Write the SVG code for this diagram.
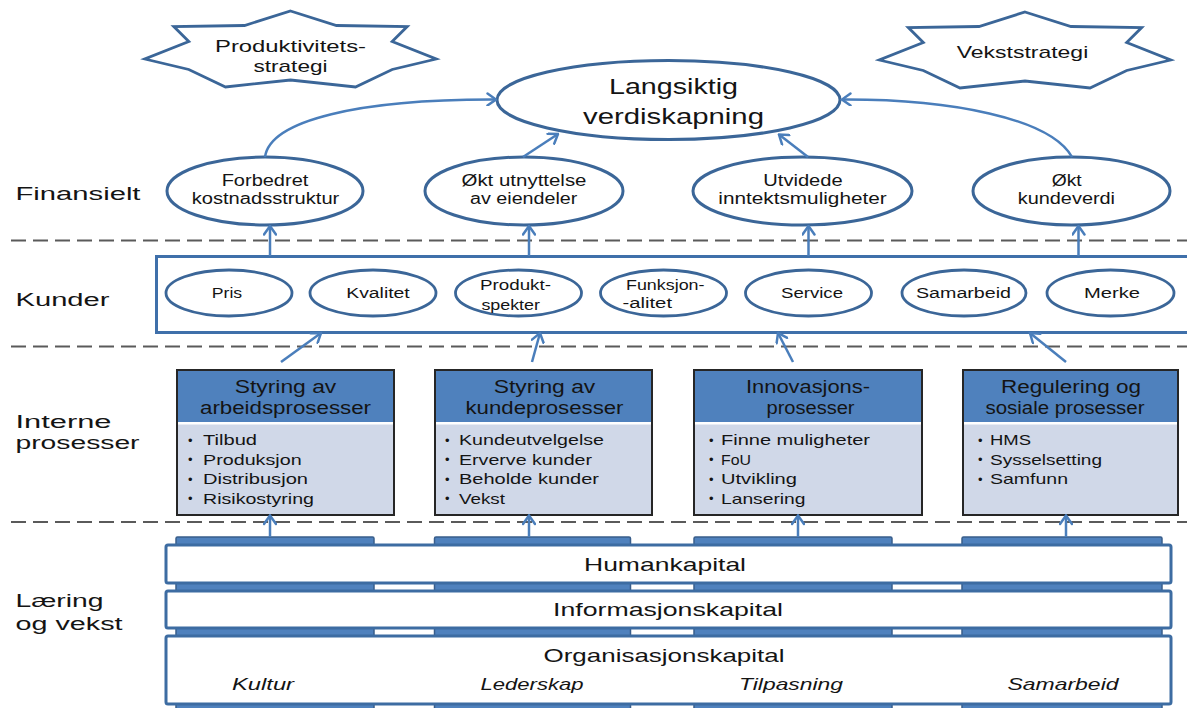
<svg xmlns="http://www.w3.org/2000/svg" width="1187" height="708" viewBox="0 0 1187 708">
  <style>
    text { font-family: "Liberation Sans", Arial, sans-serif; fill: #141414; }
    .lbl { font-size: 18.8px; }
    .big { font-size: 21.5px; text-anchor: middle; }
    .fin { font-size: 16px; text-anchor: middle; }
    .star { font-size: 17px; text-anchor: middle; }
    .kd { font-size: 14px; text-anchor: middle; }
    .kds { font-size: 14px; }
    .hd { font-size: 17.5px; text-anchor: middle; }
    .bl { font-size: 15px; }
    .dot { font-size: 13px; }
    .cap { font-size: 19px; text-anchor: middle; }
    .it { font-size: 17px; font-style: italic; text-anchor: middle; }
    .oval { fill: #ffffff; stroke: #3B6698; stroke-width: 3; }
    .oval-s { fill: #ffffff; stroke: #3B6698; stroke-width: 2.8; }
    .starshape { fill: #ffffff; stroke: #3B6698; stroke-width: 2.8; stroke-linejoin: miter; }
    .conn { fill: none; stroke: #4A7EBB; stroke-width: 2.5; marker-end: url(#open); }
    .dash { stroke: #5A5A5A; stroke-width: 2; stroke-dasharray: 15 7; }
    .phead { fill: #4F81BD; }
    .pbody { fill: #D0D8E8; stroke: #262626; stroke-width: 2; }
    .pillar { fill: #4F81BD; stroke: #385D8A; stroke-width: 1.5; }
    .bar { fill: #ffffff; stroke: #3D6CA2; stroke-width: 3; }
  </style>
  <defs>
    <marker id="open" viewBox="0 0 12 14" refX="10.5" refY="7" markerWidth="12" markerHeight="14" markerUnits="userSpaceOnUse" orient="auto">
      <path d="M2,1 L10.5,7 L2,13" fill="none" stroke="#4A7EBB" stroke-width="2.5" stroke-linecap="round"/>
    </marker>
    <polygon id="star7" points="0,12 46,26.5 116.7,27.5 101.7,42.5 145.7,60 101.7,70.5 65,88 0,81 -65,88 -101.7,70.5 -145.7,60 -101.7,42.5 -116.7,27.5 -46,26.5"/>
  </defs>

  <!-- perspective separators -->
  <g id="separators">
    <line class="dash" x1="11" y1="240.5" x2="1187" y2="240.5"/>
    <line class="dash" x1="11" y1="346.5" x2="1187" y2="346.5"/>
    <line class="dash" x1="11" y1="522" x2="1187" y2="522"/>
  </g>

  <!-- perspective labels -->
  <g id="row-labels">
    <text class="lbl" x="15.5" y="199.5" textLength="125" lengthAdjust="spacingAndGlyphs">Finansielt</text>
    <text class="lbl" x="15.5" y="305.5" textLength="94" lengthAdjust="spacingAndGlyphs">Kunder</text>
    <text class="lbl"><tspan x="15.5" y="427.5" textLength="96" lengthAdjust="spacingAndGlyphs">Interne</tspan><tspan x="15.5" y="448.7" textLength="124" lengthAdjust="spacingAndGlyphs">prosesser</tspan></text>
    <text class="lbl"><tspan x="15.5" y="606.5" textLength="88" lengthAdjust="spacingAndGlyphs">Læring</tspan><tspan x="15.5" y="630" textLength="107" lengthAdjust="spacingAndGlyphs">og vekst</tspan></text>
  </g>

  <!-- strategies -->
  <g id="star-produktivitet">
    <use href="#star7" class="starshape" transform="translate(290.5,-1)"/>
    <text class="star"><tspan x="290.5" y="51.5" textLength="151" lengthAdjust="spacingAndGlyphs">Produktivitets-</tspan><tspan x="290.5" y="71.5" textLength="74" lengthAdjust="spacingAndGlyphs">strategi</tspan></text>
  </g>
  <g id="star-vekst">
    <use href="#star7" class="starshape" transform="translate(1025,0)"/>
    <text class="star" x="1022.5" y="58.3" textLength="131.5" lengthAdjust="spacingAndGlyphs">Vekststrategi</text>
  </g>

  <g id="goal">
    <ellipse class="oval" cx="668.5" cy="100" rx="171.5" ry="39.5"/>
    <text class="big"><tspan x="673.5" y="94.3" textLength="129" lengthAdjust="spacingAndGlyphs">Langsiktig</tspan><tspan x="673.5" y="124" textLength="181" lengthAdjust="spacingAndGlyphs">verdiskapning</tspan></text>
  </g>

  <!-- financial perspective -->
  <g id="fin-kostnad">
    <ellipse class="oval" cx="265" cy="191" rx="98" ry="34"/>
    <text class="fin"><tspan x="265" y="185.7" textLength="86.7" lengthAdjust="spacingAndGlyphs">Forbedret</tspan><tspan x="265.5" y="204" textLength="147.7" lengthAdjust="spacingAndGlyphs">kostnadsstruktur</tspan></text>
  </g>
  <g id="fin-eiendeler">
    <ellipse class="oval" cx="524" cy="191" rx="99" ry="34"/>
    <text class="fin"><tspan x="524" y="185.7" textLength="125" lengthAdjust="spacingAndGlyphs">Økt utnyttelse</tspan><tspan x="523.7" y="204" textLength="107.3" lengthAdjust="spacingAndGlyphs">av eiendeler</tspan></text>
  </g>
  <g id="fin-inntekt">
    <ellipse class="oval" cx="802.5" cy="191" rx="109.5" ry="34"/>
    <text class="fin"><tspan x="803" y="185.7" textLength="79.4" lengthAdjust="spacingAndGlyphs">Utvidede</tspan><tspan x="802.5" y="204" textLength="168.4" lengthAdjust="spacingAndGlyphs">inntektsmuligheter</tspan></text>
  </g>
  <g id="fin-kundeverdi">
    <ellipse class="oval" cx="1071.5" cy="191" rx="98.5" ry="34"/>
    <text class="fin"><tspan x="1066.7" y="185.5" textLength="30" lengthAdjust="spacingAndGlyphs">Økt</tspan><tspan x="1066.4" y="204" textLength="97.3" lengthAdjust="spacingAndGlyphs">kundeverdi</tspan></text>
  </g>

  <!-- customer perspective -->
  <g id="kunder">
    <rect x="156.5" y="256.5" width="1045" height="76" fill="#ffffff" stroke="#3F70AA" stroke-width="3"/>
    <g id="k-pris">
      <ellipse class="oval-s" cx="229" cy="293" rx="63" ry="23"/>
      <text class="kd" x="227" y="298.3" textLength="30.4" lengthAdjust="spacingAndGlyphs">Pris</text>
    </g>
    <g id="k-kvalitet">
      <ellipse class="oval-s" cx="373" cy="293" rx="63" ry="23"/>
      <text class="kd" x="378" y="298.3" textLength="63.5" lengthAdjust="spacingAndGlyphs">Kvalitet</text>
    </g>
    <g id="k-produkt">
      <ellipse class="oval-s" cx="518.5" cy="293" rx="63" ry="23"/>
      <text class="kds"><tspan x="480" y="290" textLength="71" lengthAdjust="spacingAndGlyphs">Produkt-</tspan><tspan x="481.4" y="309.5" textLength="58.6" lengthAdjust="spacingAndGlyphs">spekter</tspan></text>
    </g>
    <g id="k-funksjon">
      <ellipse class="oval-s" cx="663.5" cy="293" rx="63" ry="23"/>
      <text class="kds"><tspan x="626" y="289.5" textLength="78.5" lengthAdjust="spacingAndGlyphs">Funksjon-</tspan><tspan x="622.5" y="307.5" textLength="49.5" lengthAdjust="spacingAndGlyphs">-alitet</tspan></text>
    </g>
    <g id="k-service">
      <ellipse class="oval-s" cx="808.5" cy="293" rx="63" ry="23"/>
      <text class="kd" x="812" y="298.3" textLength="62" lengthAdjust="spacingAndGlyphs">Service</text>
    </g>
    <g id="k-samarbeid">
      <ellipse class="oval-s" cx="964" cy="293" rx="62" ry="23"/>
      <text class="kd" x="963.5" y="298.3" textLength="95" lengthAdjust="spacingAndGlyphs">Samarbeid</text>
    </g>
    <g id="k-merke">
      <ellipse class="oval-s" cx="1110.5" cy="293" rx="63.5" ry="23"/>
      <text class="kd" x="1112" y="298.3" textLength="56" lengthAdjust="spacingAndGlyphs">Merke</text>
    </g>
  </g>

  <!-- internal processes -->
  <g id="proc-arbeid">
    <rect class="pbody" x="177" y="370" width="217" height="145"/>
    <rect class="phead" x="178" y="371" width="215" height="51"/>
    <line x1="178" y1="423.2" x2="393" y2="423.2" stroke="#ffffff" stroke-width="2.4"/>
    <text class="hd"><tspan x="285.5" y="393.3" textLength="101.6" lengthAdjust="spacingAndGlyphs">Styring av</tspan><tspan x="285.5" y="414.3" textLength="171" lengthAdjust="spacingAndGlyphs">arbeidsprosesser</tspan></text>
    <text class="dot"><tspan x="188" y="444.5">•</tspan><tspan x="188" y="464">•</tspan><tspan x="188" y="483.5">•</tspan><tspan x="188" y="503">•</tspan></text>
    <text class="bl"><tspan x="203" y="445" textLength="54" lengthAdjust="spacingAndGlyphs">Tilbud</tspan><tspan x="203" y="464.5" textLength="98.6" lengthAdjust="spacingAndGlyphs">Produksjon</tspan><tspan x="203" y="484" textLength="105" lengthAdjust="spacingAndGlyphs">Distribusjon</tspan><tspan x="203" y="503.5" textLength="111" lengthAdjust="spacingAndGlyphs">Risikostyring</tspan></text>
  </g>
  <g id="proc-kunde">
    <rect class="pbody" x="435" y="370" width="217" height="145"/>
    <rect class="phead" x="436" y="371" width="215" height="51"/>
    <line x1="436" y1="423.2" x2="651" y2="423.2" stroke="#ffffff" stroke-width="2.4"/>
    <text class="hd"><tspan x="544.5" y="393.3" textLength="101.6" lengthAdjust="spacingAndGlyphs">Styring av</tspan><tspan x="544.5" y="414.3" textLength="158" lengthAdjust="spacingAndGlyphs">kundeprosesser</tspan></text>
    <text class="dot"><tspan x="445" y="444.5">•</tspan><tspan x="445" y="464">•</tspan><tspan x="445" y="483.5">•</tspan><tspan x="445" y="503">•</tspan></text>
    <text class="bl"><tspan x="459" y="445" textLength="145" lengthAdjust="spacingAndGlyphs">Kundeutvelgelse</tspan><tspan x="459" y="464.5" textLength="133" lengthAdjust="spacingAndGlyphs">Erverve kunder</tspan><tspan x="459" y="484" textLength="140" lengthAdjust="spacingAndGlyphs">Beholde kunder</tspan><tspan x="459" y="503.5" textLength="46" lengthAdjust="spacingAndGlyphs">Vekst</tspan></text>
  </g>
  <g id="proc-innovasjon">
    <rect class="pbody" x="694" y="370" width="228" height="145"/>
    <rect class="phead" x="695" y="371" width="226" height="51"/>
    <line x1="695" y1="423.2" x2="921" y2="423.2" stroke="#ffffff" stroke-width="2.4"/>
    <text class="hd"><tspan x="808" y="393.3" textLength="124" lengthAdjust="spacingAndGlyphs">Innovasjons-</tspan><tspan x="810.5" y="414.3" textLength="88" lengthAdjust="spacingAndGlyphs">prosesser</tspan></text>
    <text class="dot"><tspan x="709" y="444.5">•</tspan><tspan x="709" y="464">•</tspan><tspan x="709" y="483.5">•</tspan><tspan x="709" y="503">•</tspan></text>
    <text class="bl"><tspan x="721" y="445" textLength="149" lengthAdjust="spacingAndGlyphs">Finne muligheter</tspan><tspan x="721" y="464.5" textLength="30" lengthAdjust="spacingAndGlyphs">FoU</tspan><tspan x="721" y="484" textLength="76" lengthAdjust="spacingAndGlyphs">Utvikling</tspan><tspan x="721" y="503.5" textLength="84.5" lengthAdjust="spacingAndGlyphs">Lansering</tspan></text>
  </g>
  <g id="proc-regulering">
    <rect class="pbody" x="963" y="370" width="215" height="145"/>
    <rect class="phead" x="964" y="371" width="213" height="51"/>
    <line x1="964" y1="423.2" x2="1177" y2="423.2" stroke="#ffffff" stroke-width="2.4"/>
    <text class="hd"><tspan x="1071" y="393.3" textLength="140" lengthAdjust="spacingAndGlyphs">Regulering og</tspan><tspan x="1065" y="414.3" textLength="159" lengthAdjust="spacingAndGlyphs">sosiale prosesser</tspan></text>
    <text class="dot"><tspan x="978" y="444.5">•</tspan><tspan x="978" y="464">•</tspan><tspan x="978" y="483.5">•</tspan></text>
    <text class="bl"><tspan x="990" y="445" textLength="41" lengthAdjust="spacingAndGlyphs">HMS</tspan><tspan x="990" y="464.5" textLength="112" lengthAdjust="spacingAndGlyphs">Sysselsetting</tspan><tspan x="990" y="484" textLength="78" lengthAdjust="spacingAndGlyphs">Samfunn</tspan></text>
  </g>

  <!-- learning and growth: pillars behind capital layers -->
  <g id="pillars">
    <rect class="pillar" x="176" y="537" width="198" height="180" rx="1.5"/>
    <rect class="pillar" x="434.5" y="537" width="196" height="180" rx="1.5"/>
    <rect class="pillar" x="694" y="537" width="198" height="180" rx="1.5"/>
    <rect class="pillar" x="962" y="537" width="200" height="180" rx="1.5"/>
  </g>
  <g id="cap-human">
    <rect class="bar" x="166" y="545" width="1005" height="38" rx="2"/>
    <text class="cap" x="665" y="570.7" textLength="162" lengthAdjust="spacingAndGlyphs">Humankapital</text>
  </g>
  <g id="cap-informasjon">
    <rect class="bar" x="166" y="591" width="1005" height="37" rx="2"/>
    <text class="cap" x="668" y="615.7" textLength="230" lengthAdjust="spacingAndGlyphs">Informasjonskapital</text>
  </g>
  <g id="cap-organisasjon">
    <rect class="bar" x="166" y="636" width="1005" height="68" rx="2"/>
    <text class="cap" x="664" y="661.7" textLength="241" lengthAdjust="spacingAndGlyphs">Organisasjonskapital</text>
    <text class="it" x="263" y="690" textLength="62" lengthAdjust="spacingAndGlyphs">Kultur</text>
    <text class="it" x="532" y="690" textLength="103" lengthAdjust="spacingAndGlyphs">Lederskap</text>
    <text class="it" x="791" y="690" textLength="104" lengthAdjust="spacingAndGlyphs">Tilpasning</text>
    <text class="it" x="1063" y="690" textLength="111" lengthAdjust="spacingAndGlyphs">Samarbeid</text>
  </g>

  <!-- cause-and-effect links -->
  <g id="connectors">
    <path class="conn" d="M265,157 C270,120 360,99 496,99.5"/>
    <path class="conn" d="M523,157 L558,134"/>
    <path class="conn" d="M808,157 L779,134.5"/>
    <path class="conn" d="M1072,157 C1050,118 950,99 842,99.5"/>

    <path class="conn" d="M270,256 L270,226"/>
    <path class="conn" d="M529,256 L529,226"/>
    <path class="conn" d="M808.5,256 L808.5,226"/>
    <path class="conn" d="M1078.5,256 L1078.5,226"/>

    <path class="conn" d="M281,362 L321,333"/>
    <path class="conn" d="M532,362 L540,333"/>
    <path class="conn" d="M793,362 L778,333"/>
    <path class="conn" d="M1066,362 L1030,333"/>

    <path class="conn" d="M270,537 L270,515.5"/>
    <path class="conn" d="M529,537 L529,515.5"/>
    <path class="conn" d="M798,537 L798,515.5"/>
    <path class="conn" d="M1066,537 L1066,515.5"/>
  </g>
</svg>
